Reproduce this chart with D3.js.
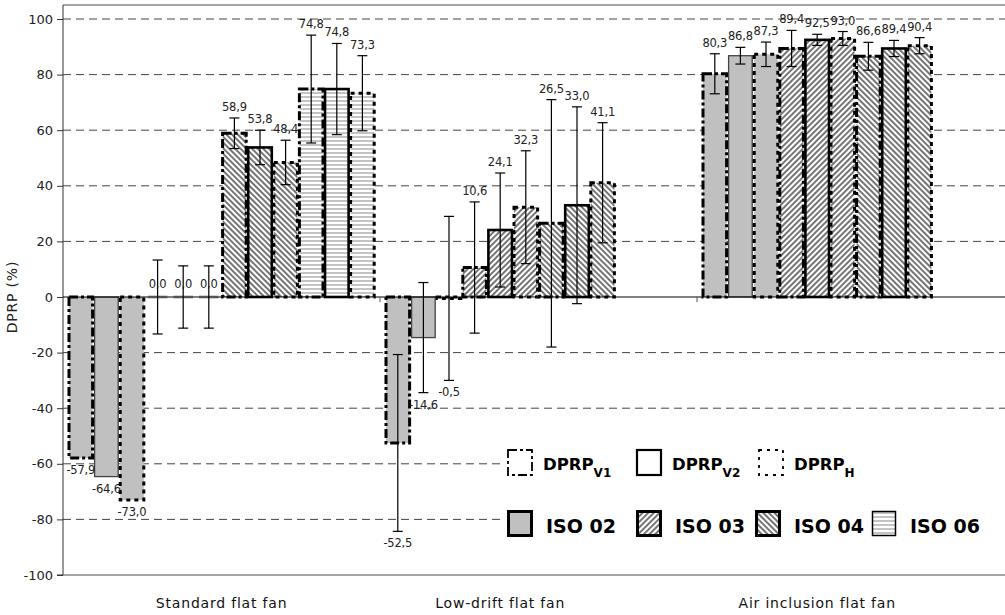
<!DOCTYPE html>
<html><head><meta charset="utf-8">
<script src="https://cdn.jsdelivr.net/npm/d3@7"></script>
<style>
html,body{margin:0;padding:0;background:#fff;}
svg{display:block;font-family:"DejaVu Sans",sans-serif;}
</style></head>
<body><svg id="chart" width="1005" height="615"></svg>
<script>
// ---------- data ----------
const categories = ["Standard flat fan", "Low-drift flat fan", "Air inclusion flat fan"];
const isoTypes = ["ISO 02", "ISO 03", "ISO 04", "ISO 06"];
const dprpTypes = ["V1", "V2", "H"];
const yTicks = [-100, -80, -60, -40, -20, 0, 20, 40, 60, 80, 100];

const standardIso = ["ISO 02", "ISO 03", "ISO 04", "ISO 06"];
const standardValues = [[-57.9, -64.6, -73.0], [0.0, 0.0, 0.0], [58.9, 53.8, 48.4], [74.8, 74.8, 73.3]];
const standardErrors = [[null, null, null], [13.3, 11.2, 11.2], [5.5, 6.2, 8.0], [19.4, 16.4, 13.5]];

const lowDriftIso = ["ISO 02", "ISO 03", "ISO 04"];
const lowDriftValues = [[-52.5, -14.6, -0.5], [10.6, 24.1, 32.3], [26.5, 33.0, 41.1]];
const lowDriftErrors = [[31.8, 19.8, 29.5], [23.6, 20.5, 20.3], [44.5, 35.4, 21.6]];

const airIso = ["ISO 02", "ISO 03", "ISO 04"];
const airValues = [[80.3, 86.8, 87.3], [89.4, 92.5, 93.0], [86.6, 89.4, 90.4]];
const airErrors = [[7.2, 3.0, 4.4], [6.5, 2.0, 2.5], [5.0, 2.9, 2.9]];

const groups = [
  {cat: categories[0], iso: standardIso, values: standardValues, errors: standardErrors},
  {cat: categories[1], iso: lowDriftIso, values: lowDriftValues, errors: lowDriftErrors},
  {cat: categories[2], iso: airIso, values: airValues, errors: airErrors}
];

// ---------- build bars ----------
const bars = [];
groups.forEach(g => {
  let slot = 0;
  g.iso.forEach((iso, i) => {
    dprpTypes.forEach((d, j) => {
      bars.push({cat: g.cat, slot: slot++, iso, dprp: d, value: g.values[i][j], err: g.errors[i][j]});
    });
  });
  g.nSlots = slot;
});

// ---------- layout ----------
const svg = d3.select("#chart");
const pLeft = 63, pTop = 5, pBottom = 575, pRight = 1005;
const y = d3.scaleLinear().domain([-100, 100]).range([575, 19]);
const xCat = d3.scaleBand().domain(categories).range([pLeft, pLeft + 3 * 317]);
const xSlot = d3.scaleBand().domain(d3.range(12)).range([5, 5 + 12 * 25.6]);
const fmt = v => d3.format(".1f")(v).replace(".", ",").replace("\u2212", "-");

// patterns
const defs = svg.append("defs");
const p03 = defs.append("pattern").attr("id", "p03").attr("patternUnits", "userSpaceOnUse")
  .attr("width", 4).attr("height", 4).attr("patternTransform", "rotate(45)");
p03.append("rect").attr("width", 4).attr("height", 4).attr("fill", "#fff");
p03.append("line").attr("x1", 1).attr("y1", 0).attr("x2", 1).attr("y2", 4).attr("stroke", "#3a3a3a").attr("stroke-width", 1.4);
const p04 = defs.append("pattern").attr("id", "p04").attr("patternUnits", "userSpaceOnUse")
  .attr("width", 4).attr("height", 4).attr("patternTransform", "rotate(-45)");
p04.append("rect").attr("width", 4).attr("height", 4).attr("fill", "#fff");
p04.append("line").attr("x1", 1).attr("y1", 0).attr("x2", 1).attr("y2", 4).attr("stroke", "#3a3a3a").attr("stroke-width", 1.4);
const p06 = defs.append("pattern").attr("id", "p06").attr("patternUnits", "userSpaceOnUse")
  .attr("width", 4).attr("height", 4);
p06.append("rect").attr("width", 4).attr("height", 4).attr("fill", "#fff");
p06.append("line").attr("x1", 0).attr("y1", 1).attr("x2", 4).attr("y2", 1).attr("stroke", "#c4c4c4").attr("stroke-width", 2);

const isoFill = {"ISO 02": "#c0c0c0", "ISO 03": "url(#p03)", "ISO 04": "url(#p04)", "ISO 06": "url(#p06)"};
const dprpDash = {"V1": "9,3,3,3", "V2": null, "H": "4,4"};

// frame lines
svg.append("line").attr("x1", pLeft).attr("x2", pRight).attr("y1", pTop).attr("y2", pTop)
  .attr("stroke", "#a6a6a6").attr("stroke-width", 2);
svg.append("line").attr("x1", pLeft).attr("x2", pRight).attr("y1", pBottom).attr("y2", pBottom)
  .attr("stroke", "#a6a6a6").attr("stroke-width", 2);

// gridlines
svg.append("g").selectAll("line").data(yTicks.filter(t => t !== 0 && t !== -100)).join("line")
  .attr("x1", pLeft).attr("x2", pRight).attr("y1", d => y(d)).attr("y2", d => y(d))
  .attr("stroke", "#444").attr("stroke-width", 1).attr("stroke-dasharray", "8,5");

// y axis
const yAxis = svg.append("g").attr("transform", `translate(${pLeft},0)`)
  .call(d3.axisLeft(y).tickValues(yTicks).tickSize(6).tickPadding(4).tickFormat(d => String(d)));
yAxis.select(".domain").attr("d", `M-6,${y(-100)}H0V${pTop}`).attr("stroke", "#333");
yAxis.selectAll(".tick line").attr("stroke", "#333");
yAxis.selectAll("text").attr("font-size", 13).attr("fill", "#222").attr("font-family", "DejaVu Sans");

svg.append("text").attr("transform", `translate(17,${y(0)}) rotate(-90)`)
  .attr("text-anchor", "middle").attr("font-size", 14).attr("letter-spacing", 0.8)
  .attr("fill", "#222").text("DPRP (%)");

// bars
const barX = d => xCat(d.cat) + xSlot(d.slot);
const bw = xSlot.bandwidth();
const barG = svg.append("g");
barG.selectAll("rect").data(bars.filter(d => d.value !== 0)).join("rect")
  .attr("x", d => barX(d) + 1)
  .attr("width", bw - 2)
  .attr("y", d => Math.min(y(d.value), y(0)))
  .attr("height", d => Math.abs(y(d.value) - y(0)))
  .attr("fill", d => isoFill[d.iso])
  .attr("stroke", d => (d.dprp === "V2" && d.iso === "ISO 02") ? "#444" : "#000")
  .attr("stroke-width", d => (d.dprp === "V2" && d.iso === "ISO 02") ? 1.3 : (d.dprp === "V2" ? 2.6 : 3))
  .attr("stroke-dasharray", d => (d.dprp === "V2") ? null : dprpDash[d.dprp]);

// zero-height bars
barG.selectAll("line.zero").data(bars.filter(d => d.value === 0)).join("line").attr("class", "zero")
  .attr("x1", d => barX(d) + 3).attr("x2", d => barX(d) + bw - 3)
  .attr("y1", y(0)).attr("y2", y(0)).attr("stroke", "#a6a6a6").attr("stroke-width", 3);

// x axis (zero line) and category ticks
svg.append("line").attr("x1", pLeft).attr("x2", pRight).attr("y1", y(0)).attr("y2", y(0))
  .attr("stroke", "#000").attr("stroke-width", 1);
svg.append("g").selectAll("line").data(categories.slice(1)).join("line")
  .attr("x1", d => xCat(d)).attr("x2", d => xCat(d)).attr("y1", y(0)).attr("y2", y(0) + 5)
  .attr("stroke", "#555").attr("stroke-width", 1);

// error bars
const eb = svg.append("g").selectAll("g").data(bars.filter(d => d.err != null)).join("g")
  .attr("stroke", "#000").attr("stroke-width", 1.2);
eb.append("line").attr("x1", d => barX(d) + bw / 2).attr("x2", d => barX(d) + bw / 2)
  .attr("y1", d => y(d.value + d.err)).attr("y2", d => y(d.value - d.err));
eb.append("line").attr("x1", d => barX(d) + bw / 2 - 5).attr("x2", d => barX(d) + bw / 2 + 5)
  .attr("y1", d => y(d.value + d.err)).attr("y2", d => y(d.value + d.err));
eb.append("line").attr("x1", d => barX(d) + bw / 2 - 5).attr("x2", d => barX(d) + bw / 2 + 5)
  .attr("y1", d => y(d.value - d.err)).attr("y2", d => y(d.value - d.err));

// value labels
svg.append("g").selectAll("text").data(bars).join("text")
  .attr("x", d => barX(d) + bw / 2)
  .attr("y", d => {
    const e = d.err || 0;
    if (d.value === 0) return y(0) - 9;
    if (d.value > 0) return y(d.value + e) - 7;
    return y(d.value - e) + 16;
  })
  .attr("text-anchor", "middle").attr("font-size", 11.5).attr("letter-spacing", -0.2).attr("fill", "#222")
  .text(d => fmt(d.value));

// category labels
svg.append("g").selectAll("text").data(groups).join("text")
  .attr("x", g => xCat(g.cat) + xSlot(0) + (g.nSlots * bw) / 2)
  .attr("y", 608).attr("text-anchor", "middle").attr("font-size", 14).attr("letter-spacing", 0.8)
  .attr("fill", "#111")
  .text(g => g.cat);

// legend
const lg = svg.append("g");
lg.append("rect").attr("x", 503).attr("y", 440).attr("width", 502).attr("height", 110).attr("fill", "#fff");
const leg1 = [{k: "V1", x: 507}, {k: "V2", x: 636}, {k: "H", x: 758}];
const l1 = lg.selectAll("g.l1").data(leg1).join("g").attr("class", "l1");
l1.append("rect").attr("x", d => d.x + 1).attr("y", 450).attr("width", 24).attr("height", 25)
  .attr("fill", "#fff").attr("stroke", "#000")
  .attr("stroke-width", d => d.k === "V2" ? 2.2 : 1.8)
  .attr("stroke-dasharray", d => d.k === "V1" ? "9,3,3,3" : (d.k === "H" ? "3,5" : null));
const t1 = l1.append("text").attr("x", d => d.x + 36).attr("y", 470)
  .attr("font-size", 16.5).attr("font-weight", "bold").attr("fill", "#000");
t1.append("tspan").text("DPRP");
t1.append("tspan").attr("dy", 7).attr("font-size", 12).text(d => d.k);

const leg2 = [{k: "ISO 02", x: 507}, {k: "ISO 03", x: 636}, {k: "ISO 04", x: 755}, {k: "ISO 06", x: 871}];
const l2 = lg.selectAll("g.l2").data(leg2).join("g").attr("class", "l2");
l2.append("rect").attr("x", d => d.x + 1.5).attr("y", 511.5).attr("width", 23).attr("height", 24)
  .attr("fill", d => isoFill[d.k]).attr("stroke", "#000").attr("stroke-width", d => d.k === "ISO 06" ? 1.5 : 3);
l2.append("text").attr("x", d => d.x + 39).attr("y", 533)
  .attr("font-size", 19).attr("font-weight", "bold").attr("fill", "#000").text(d => d.k);
</script>
</body></html>
